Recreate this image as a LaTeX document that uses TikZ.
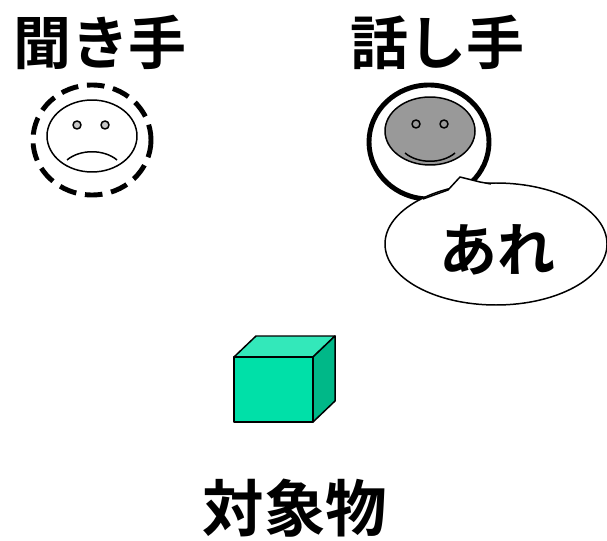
\documentclass[tikz,border=0pt]{standalone}
\usepackage{fontspec}
\newfontfamily\jp{Noto Sans CJK JP}[BoldFont={Noto Sans CJK JP Bold}]
\definecolor{boxfront}{RGB}{0,224,168}
\definecolor{boxtop}{RGB}{51,232,186}
\definecolor{boxside}{RGB}{0,184,136}
\definecolor{facegray}{RGB}{153,153,153}
\definecolor{eyegray}{RGB}{200,200,200}
\tikzset{
  label/.style={font=\jp\bfseries\fontsize{33}{33}\selectfont, inner sep=0pt},
  thin line/.style={line width=0.85pt},
  thick line/.style={line width=2.8pt},
}
\begin{document}
\begin{tikzpicture}[x=0.02cm,y=-0.02cm,line join=round]
  \useasboundingbox (0,0) rectangle (607,540);
  % titles
  \node[label] (listener) at (100,42) {聞き手};
  \node[label] (speaker)  at (437,42) {話し手};
  % listener face (dashed ring, frown)
  \draw[thick line,dash pattern=on 10pt off 5pt] (92,140) ellipse (59 and 55);
  \draw[thin line,fill=white] (92,136) ellipse (45 and 36);
  \draw[thin line,fill=eyegray] (77,125) circle (4);
  \draw[thin line,fill=eyegray] (105,125) circle (4);
  \draw[thin line] (67,160) .. controls (80,149) and (104,149) .. (117,160);
  % speaker face (solid ring, smile)
  \draw[thick line,fill=white] (429,142) ellipse (60 and 57);
  \draw[thin line,fill=facegray] (430,131) ellipse (45 and 34);
  \draw[thin line,fill=facegray] (416,124) circle (4);
  \draw[thin line,fill=facegray] (444,124) circle (4);
  \draw[thin line] (405,153) .. controls (418,164) and (442,164) .. (455,153);
  % speech bubble with jagged tail
  \draw[thin line,fill=white] (496,244) ellipse (111 and 61);
  \fill[white] (423,199) -- (448,190) -- (460,177) -- (480,182) -- (491,184)
    -- (480,215) -- (430,215) -- cycle;
  \draw[thin line] (423,199) -- (448,190) -- (460,177) -- (480,182) -- (491,184);
  \node[label] (word) at (497,250) {あれ};
  % the object (cube)
  \coordinate (A) at (234,357);
  \coordinate (B) at (313,357);
  \coordinate (C) at (313,422);
  \coordinate (D) at (234,422);
  \draw[thin line,fill=boxtop] (A) -- (B) -- ++(22,-21) -- (256,336) -- cycle;
  \draw[thin line,fill=boxside] (B) -- (C) -- ++(22,-21) -- (335,336) -- cycle;
  \draw[thin line,fill=boxfront] (A) rectangle (C);
  \node[label,font=\jp\bfseries\fontsize{35}{35}\selectfont] (object) at (295,508) {対象物};
\end{tikzpicture}
\end{document}
